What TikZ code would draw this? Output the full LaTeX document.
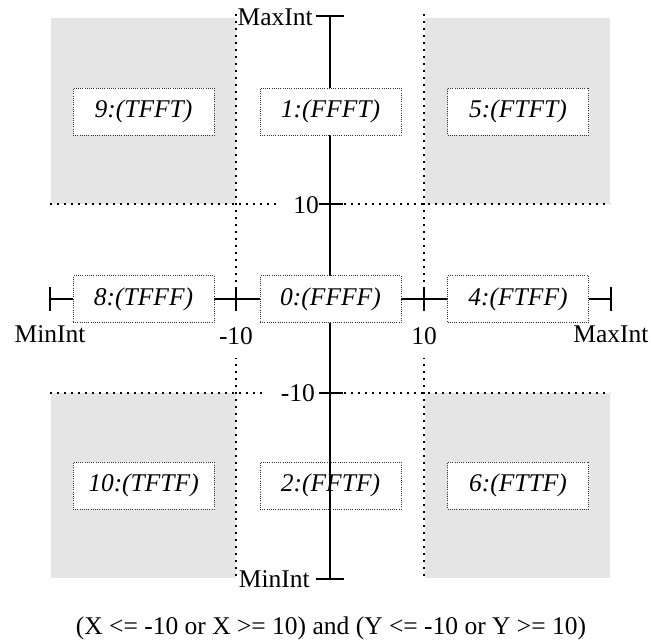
\documentclass[tikz,border=0pt]{standalone}
\usepackage{fontspec}
\setmainfont{Liberation Serif}
\begin{document}
\begin{tikzpicture}[x=1pt,y=-1pt,
  every node/.style={font=\fontsize{25.5}{30}\selectfont, inner sep=1pt},
  region/.style={fill=black!10, draw=none},
  grid/.style={line width=2.4pt, dash pattern=on 2.4pt off 4.6pt},
  axis/.style={line width=1.8pt},
  statebox/.style={draw=black!80, fill=white, line width=0.7pt, dash pattern=on 0.7pt off 1.5pt,
     minimum width=141pt, minimum height=47pt, inner sep=0pt, font=\fontsize{25.5}{30}\selectfont\itshape},
  ylbl/.style={fill=white, anchor=east, inner xsep=15pt, inner ysep=2pt},
  xlbl/.style={fill=white, inner xsep=2pt, inner ysep=13pt}]
\useasboundingbox (0,0) rectangle (651,642);
% shaded regions
\fill[region] (51,18) rectangle (236,204);
\fill[region] (425,18) rectangle (610,204);
\fill[region] (51,393) rectangle (236,578);
\fill[region] (425,393) rectangle (610,578);
% dotted boundaries
\coordinate (gv1t) at (236,14); \coordinate (gv1b) at (236,578);
\coordinate (gv2t) at (424,14); \coordinate (gv2b) at (424,578);
\coordinate (gh1l) at (50,204); \coordinate (gh1r) at (610,204);
\coordinate (gh2l) at (50,393); \coordinate (gh2r) at (610,393);
\draw[grid] (gv1t) -- (gv1b);
\draw[grid] (gv2t) -- (gv2b);
\draw[grid] (gh1l) -- (gh1r);
\draw[grid] (gh2l) -- (gh2r);
% axis labels (their white ground hides the dotted lines)
\node[anchor=east] (lmaxy) at (314,17) {MaxInt};
\node[anchor=east] (lminy) at (311,579) {MinInt};
\node[ylbl] (lp10y) at (334,205) {10};
\node[ylbl] (lm10y) at (330,393) {-10};
\node (lminx) at (50,334) {MinInt};
\node[xlbl] (lm10x) at (236,336) {-10};
\node[xlbl] (lp10x) at (424,336) {10};
\node (lmaxx) at (611,334) {MaxInt};
% axis coordinates
\coordinate (ytop) at (330,16);
\coordinate (ybot) at (330,579);
\coordinate (yp10) at (330,204);
\coordinate (ym10) at (330,393);
\coordinate (xlft) at (50,299);
\coordinate (xrgt) at (611,299);
\coordinate (xm10) at (236,299);
\coordinate (xp10) at (424,299);
% vertical axis and its ticks
\draw[axis] (ytop) -- (ybot);
\draw[axis] ([xshift=-14pt]ytop) -- ([xshift=14pt]ytop);
\draw[axis] ([xshift=-14pt]ybot) -- ([xshift=14pt]ybot);
\draw[axis] ([xshift=-11pt]yp10) -- ([xshift=13pt]yp10);
\draw[axis] ([xshift=-11pt]ym10) -- ([xshift=13pt]ym10);
% horizontal axis and its ticks
\draw[axis] (xlft) -- (xrgt);
\draw[axis] ([yshift=-12pt]xlft) -- ([yshift=12pt]xlft);
\draw[axis] ([yshift=-12pt]xrgt) -- ([yshift=12pt]xrgt);
\draw[axis] ([yshift=-12pt]xm10) -- ([yshift=12pt]xm10);
\draw[axis] ([yshift=-12pt]xp10) -- ([yshift=12pt]xp10);
% state boxes
\node[statebox] (b9) at (143.5,111.5) {9:(TFFT)};
\node[statebox] (b1) at (330.5,111.5) {1:(FFFT)};
\node[statebox] (b5) at (518,111.5) {5:(FTFT)};
\node[statebox] (b8) at (143.5,299) {8:(TFFF)};
\node[statebox] (b0) at (330.5,299) {0:(FFFF)};
\node[statebox] (b4) at (518,299) {4:(FTFF)};
\node[statebox] (b10) at (143.5,485.5) {10:(TFTF)};
\node[statebox] (b2) at (330.5,485.5) {2:(FFTF)};
\node[statebox] (b6) at (518,485.5) {6:(FTTF)};
% lower part of the vertical axis runs over box 2
\draw[axis] (ym10) -- (ybot);
% caption
\node (cap) at (331,628) {(X <= -10 or X >= 10) and (Y <= -10 or Y >= 10)};
\end{tikzpicture}
\end{document}
